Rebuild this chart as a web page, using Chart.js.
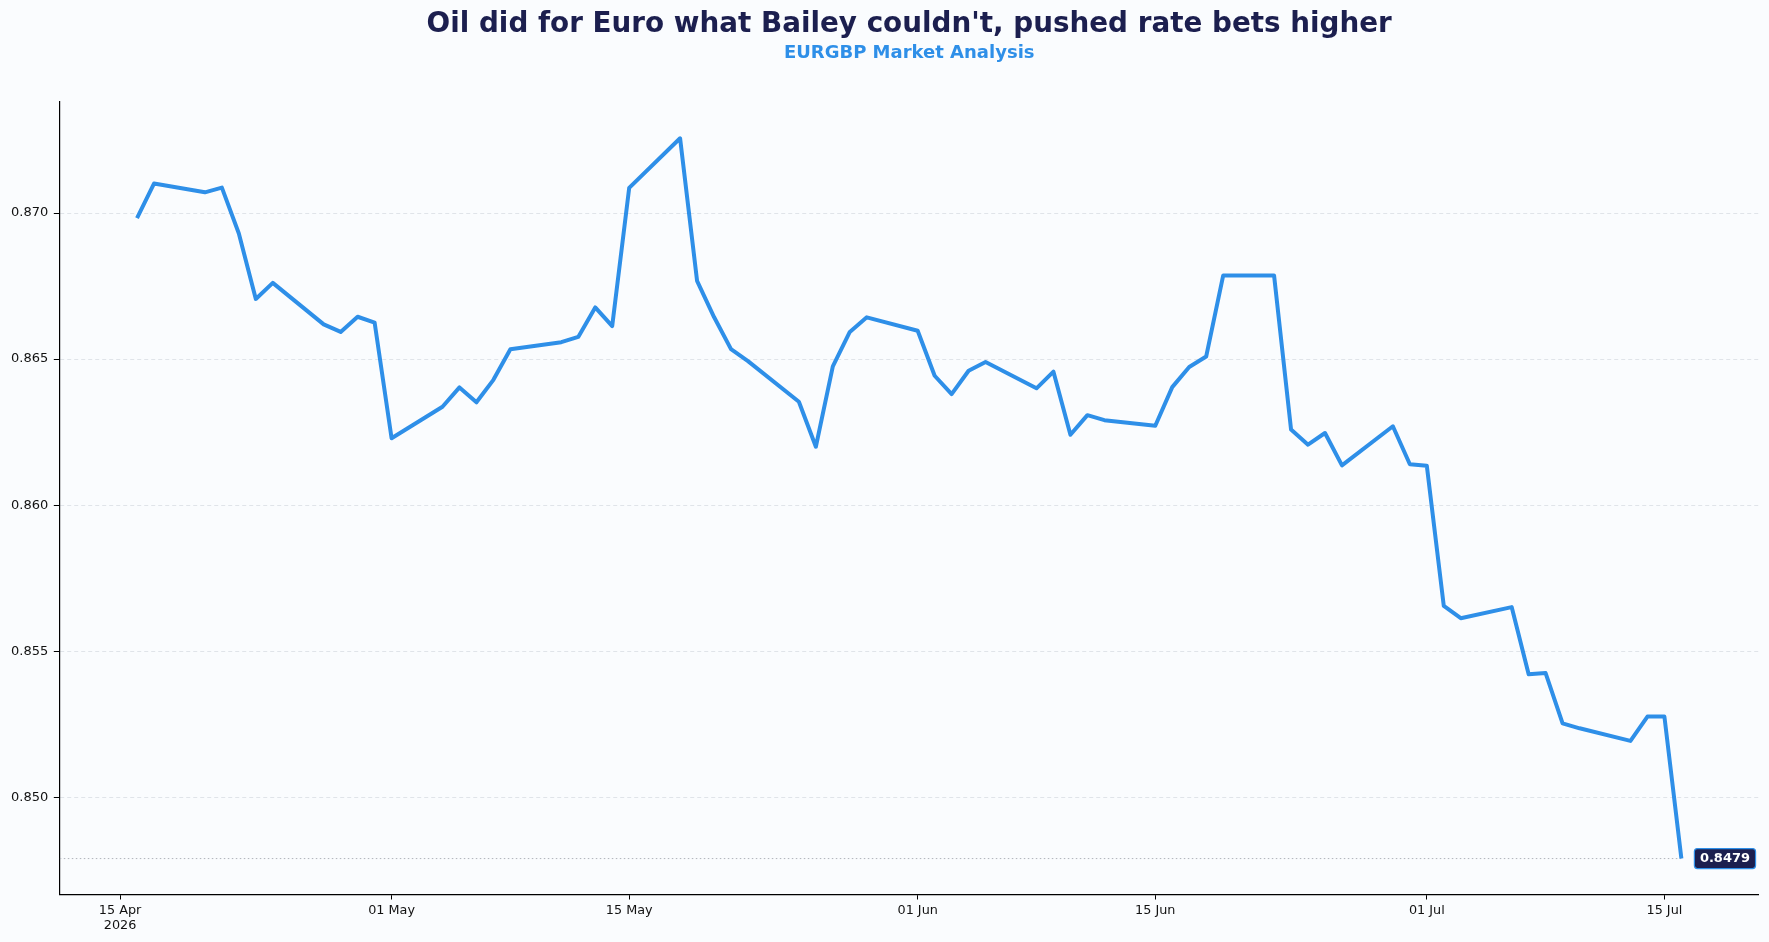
<!DOCTYPE html>
<html>
<head>
<meta charset="utf-8">
<script src="https://cdn.jsdelivr.net/npm/chart.js@4.4.1/dist/chart.umd.min.js"></script>
<style>
  html, body { margin: 0; padding: 0; background: #fafcfe; }
  canvas { display: block; }
</style>
</head>
<body>
<canvas id="eurgbpChart" width="1769" height="942"></canvas>
<script>
// === 1. Data ===
const dates = [
  "2026-04-16", "2026-04-17", "2026-04-20", "2026-04-21", "2026-04-22", "2026-04-23", "2026-04-24",
  "2026-04-27", "2026-04-28", "2026-04-29", "2026-04-30", "2026-05-01",
  "2026-05-04", "2026-05-05", "2026-05-06", "2026-05-07", "2026-05-08",
  "2026-05-11", "2026-05-12", "2026-05-13", "2026-05-14", "2026-05-15",
  "2026-05-18", "2026-05-19", "2026-05-20", "2026-05-21", "2026-05-22",
  "2026-05-25", "2026-05-26", "2026-05-27", "2026-05-28", "2026-05-29",
  "2026-06-01", "2026-06-02", "2026-06-03", "2026-06-04", "2026-06-05",
  "2026-06-08", "2026-06-09", "2026-06-10", "2026-06-11", "2026-06-12",
  "2026-06-15", "2026-06-16", "2026-06-17", "2026-06-18", "2026-06-19",
  "2026-06-22", "2026-06-23", "2026-06-24", "2026-06-25", "2026-06-26",
  "2026-06-29", "2026-06-30", "2026-07-01", "2026-07-02", "2026-07-03",
  "2026-07-06", "2026-07-07", "2026-07-08", "2026-07-09", "2026-07-10",
  "2026-07-13", "2026-07-14", "2026-07-15", "2026-07-16"
];

const closes = [
  0.86983, 0.87101, 0.87071, 0.87087, 0.86930, 0.86706, 0.86761,
  0.86619, 0.86593, 0.86645, 0.86625, 0.86229,
  0.86337, 0.86403, 0.86352, 0.86429, 0.86534,
  0.86558, 0.86576, 0.86677, 0.86613, 0.87086,
  0.87256, 0.86768, 0.86644, 0.86534, 0.86493,
  0.86354, 0.86200, 0.86475, 0.86593, 0.86643,
  0.86597, 0.86443, 0.86380, 0.86460, 0.86490,
  0.86400, 0.86457, 0.86241, 0.86308, 0.86291,
  0.86272, 0.86404, 0.86473, 0.86509, 0.86786,
  0.86786, 0.86259, 0.86207, 0.86247, 0.86136,
  0.86270, 0.86140, 0.86135, 0.85655, 0.85613,
  0.85651, 0.85421, 0.85425, 0.85253, 0.85236,
  0.85193, 0.85276, 0.85276, 0.84790
];

const tickDates = ["2026-04-15", "2026-05-01", "2026-05-15", "2026-06-01", "2026-06-15", "2026-07-01", "2026-07-15"];
const tickLabels = [["15 Apr", "2026"], "01 May", "15 May", "01 Jun", "15 Jun", "01 Jul", "15 Jul"];
const yTicks = [0.850, 0.855, 0.860, 0.865, 0.870];

const TITLE = "Oil did for Euro what Bailey couldn't, pushed rate bets higher";
const SUBTITLE = "EURGBP Market Analysis";

// === 2. Helpers ===
const BASE = Date.UTC(2026, 3, 15);
function dayOffset(s) {
  const [y, m, d] = s.split("-").map(Number);
  return (Date.UTC(y, m - 1, d) - BASE) / 86400000;
}

const FONT = "'DejaVu Sans', sans-serif";
const BLUE = "#2e8fe8";
const NAVY = "#1c1f4f";

const X_MIN = -3.55, X_MAX = 96.55;
const Y_MIN = 0.84667, Y_MAX = 0.87381;

const points = dates.map((d, i) => ({ x: dayOffset(d), y: closes[i] }));
const last = points[points.length - 1];
const tickValues = tickDates.map(dayOffset);

// background + last value label
const bgPlugin = {
  id: "bg",
  beforeDraw(chart) {
    const ctx = chart.ctx;
    ctx.save();
    ctx.fillStyle = "#fafcfe";
    ctx.fillRect(0, 0, chart.width, chart.height);
    ctx.restore();
  }
};

const lastLabelPlugin = {
  id: "lastLabel",
  afterDatasetsDraw(chart) {
    const ctx = chart.ctx;
    const px = chart.scales.x.getPixelForValue(last.x);
    const py = chart.scales.y.getPixelForValue(last.y);
    const text = last.y.toFixed(4);
    ctx.save();
    ctx.font = "bold 13px " + FONT;
    const w = ctx.measureText(text).width + 11;
    const h = 20;
    const bx = px + 13, by = py - h / 2;
    ctx.beginPath();
    ctx.roundRect(bx, by, w, h, 3);
    ctx.fillStyle = NAVY;
    ctx.fill();
    ctx.lineWidth = 1.2;
    ctx.strokeStyle = BLUE;
    ctx.stroke();
    ctx.fillStyle = "#ffffff";
    ctx.textAlign = "center";
    ctx.textBaseline = "middle";
    ctx.fillText(text, bx + w / 2, py + 0.5);
    ctx.restore();
  }
};

// === 3. Chart ===
new Chart(document.getElementById("eurgbpChart"), {
  type: "line",
  data: {
    datasets: [
      {
        label: "EURGBP",
        data: points,
        borderColor: BLUE,
        borderWidth: 4,
        pointRadius: 0,
        tension: 0,
        borderJoinStyle: "round",
        order: 0
      },
      {
        label: "last",
        data: [{ x: X_MIN, y: last.y }, { x: last.x, y: last.y }],
        borderColor: "#b0b4bb",
        borderWidth: 1,
        borderDash: [1.5, 2.5],
        pointRadius: 0,
        order: 1
      }
    ]
  },
  options: {
    responsive: false,
    animation: false,
    layout: { padding: { left: 0, right: 10.4, top: 0, bottom: 0 } },
    scales: {
      x: {
        type: "linear",
        min: X_MIN,
        max: X_MAX,
        afterBuildTicks: (scale) => {
          scale.ticks = tickValues.map((v) => ({ value: v }));
        },
        afterFit: (scale) => { scale.height = 47.5; },
        ticks: {
          autoSkip: false,
          maxRotation: 0,
          padding: 3,
          color: "#111",
          font: { family: FONT, size: 12.8, lineHeight: 1.22 },
          callback: (v) => {
            const i = tickValues.indexOf(v);
            return i >= 0 ? tickLabels[i] : "";
          }
        },
        grid: {
          display: true,
          drawOnChartArea: false,
          drawTicks: true,
          tickLength: 5,
          tickColor: "#000",
          tickWidth: 1
        },
        border: { display: true, color: "#000", width: 1.2 }
      },
      y: {
        type: "linear",
        min: Y_MIN,
        max: Y_MAX,
        afterBuildTicks: (scale) => {
          scale.ticks = yTicks.map((v) => ({ value: v }));
        },
        afterFit: (scale) => { scale.width = 59.8; },
        ticks: {
          padding: 5.5,
          color: "#111",
          font: { family: FONT, size: 13 },
          callback: (v) => Number(v).toFixed(3)
        },
        grid: {
          color: "#d9dde3",
          lineWidth: 0.8,
          drawTicks: true,
          tickLength: 6,
          tickColor: "#000",
          tickWidth: 1,
          tickBorderDash: []
        },
        border: { display: true, color: "#000", width: 1.2, dash: [4, 3] }
      }
    },
    plugins: {
      legend: { display: false },
      tooltip: { enabled: false },
      title: {
        display: true,
        text: TITLE,
        color: NAVY,
        fullSize: false,
        font: { family: FONT, size: 27.8, weight: "bold", lineHeight: 1.2 },
        padding: { top: 8, bottom: 0 }
      },
      subtitle: {
        display: true,
        text: SUBTITLE,
        color: BLUE,
        fullSize: false,
        font: { family: FONT, size: 18, weight: "bold", lineHeight: 1.2 },
        padding: { top: 1.5, bottom: 37.3 }
      }
    }
  },
  plugins: [bgPlugin, lastLabelPlugin]
});
</script>
</body>
</html>
